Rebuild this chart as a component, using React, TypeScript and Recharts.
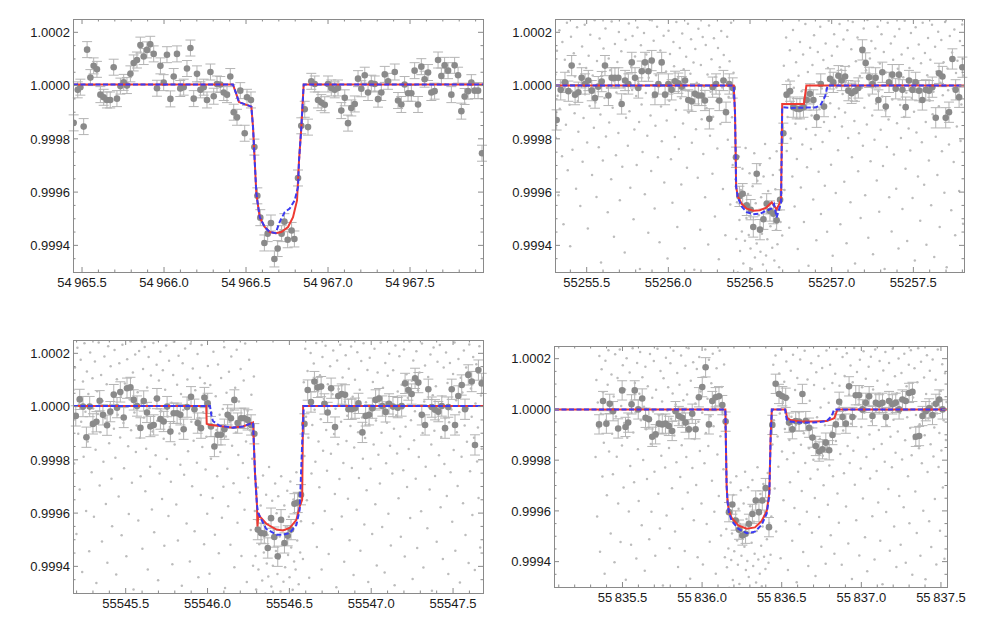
import React from 'react';
import { ComposedChart, Scatter, XAxis, YAxis, ErrorBar } from 'recharts';

type P = [number, number];

// fluxes are stored as ppm offsets from 1; times as day offsets from each panel's base
// (background points: time offset in thousandths of a day)
const Y_MIN = 0.9993;
const Y_MAX = 1.00025;
const yMajor = [0.9994, 0.9996, 0.9998, 1.0, 1.0002];
const yLabels = ['0.9994', '0.9996', '0.9998', '1.0000', '1.0002'];

const RED = '#ee3a32';
const BLUE = '#3b3bf2';

// ---------- panel 1 ----------
const base1 = 54965;
const xMajor1 = [54965.5, 54966.0, 54966.5, 54967.0, 54967.5];
const xLabels1 = ['54\u2009965.5', '54\u2009966.0', '54\u2009966.5', '54\u2009967.0', '54\u2009967.5'];
const err1 = 30;
const binned1: P[] = [
  [0.449, -140], [0.474, -16], [0.49, -6], [0.51, -154], [0.531, 135], [0.551, 30], [0.571, 74], [0.591, 61],
  [0.612, -34], [0.632, -44], [0.652, -54], [0.672, -54], [0.693, 69], [0.713, -49], [0.734, -2], [0.754, 12],
  [0.774, 0], [0.795, 44], [0.815, 85], [0.835, 96], [0.856, 152], [0.876, 109], [0.896, 134], [0.916, 155],
  [0.937, 119], [0.957, -10], [0.978, 74], [0.998, 11], [1.018, 116], [1.039, -50], [1.059, 34], [1.079, 119],
  [1.099, -11], [1.12, -6], [1.14, 64], [1.161, 141], [1.181, -49], [1.201, 44], [1.222, -16], [1.242, -6],
  [1.262, -54], [1.283, 51], [1.303, -40], [1.323, 6], [1.343, 4], [1.364, -26], [1.384, -34], [1.404, 34],
  [1.425, -100], [1.445, -119], [1.465, -19], [1.492, -179], [1.506, -44], [1.53, -54], [1.551, -231],
  [1.569, -414], [1.587, -496], [1.612, -591], [1.632, -556], [1.652, -516], [1.673, -651], [1.693, -612],
  [1.717, -556], [1.734, -511], [1.754, -579], [1.778, -544], [1.795, -576], [1.817, -347], [1.837, -151],
  [1.858, -89], [1.878, -156], [1.898, 16], [1.919, 6], [1.939, -54], [1.959, -64], [1.98, -72], [2.0, 6],
  [2.02, -9], [2.041, -16], [2.061, -9], [2.081, -94], [2.102, -46], [2.122, -141], [2.142, -84], [2.163, -69],
  [2.183, 26], [2.203, -12], [2.224, 39], [2.244, -26], [2.264, 9], [2.285, 6], [2.305, -51], [2.325, -26],
  [2.346, 42], [2.366, 16], [2.407, 51], [2.427, -56], [2.447, -71], [2.467, 4], [2.488, -29], [2.508, -29],
  [2.528, 56], [2.549, -71], [2.569, 71], [2.589, 24], [2.61, 49], [2.63, -26], [2.65, -21], [2.671, 96],
  [2.691, 36], [2.711, 76], [2.732, 56], [2.752, -34], [2.772, 76], [2.793, 39], [2.813, -96], [2.833, -41],
  [2.854, -21], [2.874, 11], [2.894, -19], [2.915, -19], [2.939, -254],
];
const red1: P[] = [
  [0.445, 4], [1.42, 4], [1.44, -30], [1.457, -62], [1.5325, -79], [1.5427, -156], [1.563, -406], [1.5833, -494],
  [1.6138, -531], [1.6443, -550], [1.6809, -554], [1.7154, -550], [1.7561, -531], [1.7866, -494], [1.811, -431],
  [1.8232, -281], [1.8374, -156], [1.8516, 4], [2.945, 4],
];
const blue1: P[] = [
  [0.445, 4], [1.42, 4], [1.44, -30], [1.457, -62], [1.5325, -79], [1.5427, -156], [1.563, -406], [1.5833, -494],
  [1.6138, -531], [1.6443, -550], [1.6809, -554], [1.7053, -512], [1.7358, -475], [1.7663, -462], [1.7967, -431],
  [1.8171, -381], [1.8232, -281], [1.8374, -156], [1.8516, 4], [2.945, 4],
];
const bg1: P[] = [];

// ---------- panel 2 ----------
const base2 = 55255;
const xMajor2 = [55255.5, 55256.0, 55256.5, 55257.0, 55257.5];
const xLabels2 = ['55255.5', '55256.0', '55256.5', '55257.0', '55257.5'];
const err2 = 38;
const binned2: P[] = [
  [0.316, -129], [0.341, -16], [0.367, 12], [0.388, -21], [0.408, 75], [0.429, -34], [0.449, -25], [0.469, 29],
  [0.49, 6], [0.51, 19], [0.531, -19], [0.551, -47], [0.571, -4], [0.592, 15], [0.612, 75], [0.633, -37],
  [0.653, 29], [0.673, 29], [0.694, 29], [0.714, -69], [0.735, 19], [0.755, 6], [0.776, 87], [0.796, 29],
  [0.816, -9], [0.837, 54], [0.857, 87], [0.878, 54], [0.898, 94], [0.918, -34], [0.939, 6], [0.959, 87],
  [0.98, -34], [1.0, 6], [1.02, -16], [1.041, 16], [1.061, 9], [1.082, -4], [1.102, 19], [1.122, -54],
  [1.143, -59], [1.163, -31], [1.184, -37], [1.204, -37], [1.224, -56], [1.251, -125], [1.271, -6], [1.292, 6],
  [1.312, -56], [1.337, 19], [1.353, -100], [1.373, 6], [1.394, -9], [1.414, -269], [1.435, -416], [1.455, -406],
  [1.48, -450], [1.504, -466], [1.52, -531], [1.541, -331], [1.561, -541], [1.582, -502], [1.602, -444],
  [1.622, -471], [1.643, -481], [1.663, -506], [1.684, -429], [1.704, -179], [1.724, -34], [1.745, -21],
  [1.765, -81], [1.786, -87], [1.806, -87], [1.827, -81], [1.847, -54], [1.867, -31], [1.888, -54], [1.908, -119],
  [1.933, 6], [1.953, -79], [1.99, 25], [2.01, 12], [2.041, 37], [2.061, 19], [2.082, 34], [2.102, -19],
  [2.122, -29], [2.143, -21], [2.163, -9], [2.188, 134], [2.208, 85], [2.229, 31], [2.249, 6], [2.269, 29],
  [2.286, -54], [2.31, 50], [2.331, -79], [2.351, 12], [2.371, 41], [2.392, -12], [2.412, 41], [2.433, -16],
  [2.453, -81], [2.473, 19], [2.494, -16], [2.514, 12], [2.535, -19], [2.555, -54], [2.576, -16], [2.596, -19],
  [2.616, -6], [2.637, -121], [2.657, 46], [2.678, 34], [2.698, -121], [2.718, -100], [2.739, 100], [2.759, -16],
  [2.78, -44], [2.8, 69],
];
const red2: P[] = [
  [0.306, 0], [1.4, 0], [1.408, -100], [1.415, -380], [1.425, -415], [1.45, -445], [1.48, -462], [1.52, -470],
  [1.56, -468], [1.6, -458], [1.633, -438], [1.663, -465], [1.69, -430], [1.697, -69], [1.83, -69], [1.845, 0],
  [2.81, 0],
];
const blue2: P[] = [
  [0.306, 0], [1.4, 0], [1.408, -100], [1.415, -380], [1.425, -420], [1.45, -455], [1.48, -475], [1.52, -483],
  [1.56, -481], [1.6, -470], [1.63, -462], [1.647, -445], [1.663, -495], [1.69, -440], [1.697, -81], [1.75, -84],
  [1.9, -82], [1.93, -75], [1.96, -40], [1.975, 0], [2.81, 0],
];
const bg2: P[] = [
  [308,42],[311,-196],[318,131],[322,-38],[327,-412],[333,208],[335,-87],[342,12],[349,-265],[351,164],[358,-521],[364,-9],[366,97],[373,-147],[379,236],[384,-318],[387,55],[395,-72],[399,-603],[404,183],[410,-21],[413,-241],[421,121],[426,-104],[428,34],[435,-387],[441,219],[446,-58],[449,-173],[457,81],[461,-452],[466,3],[472,147],[475,-286],[481,-122],[488,228],[490,-33],[497,66],[503,-214],[507,-537],[512,112],[518,-77],[522,191],[529,-11],[533,-336],[537,38],[544,-158],[549,245],[553,-64],[560,-418],[563,92],[568,-2],[574,-232],[579,177],[584,-109],[588,-664],[594,51],[599,-281],[603,139],[609,-47],[615,214],[618,-191],[624,-8],[629,-476],[635,102],[638,-139],[644,58],[650,-352],[653,241],[659,-83],[664,17],[667,-568],[673,156],[679,-262],[682,-26],[688,89],[694,-178],[697,201],[703,-431],[709,-54],[712,129],[718,-305],[723,24],[727,-7],[733,-627],[738,172],[741,-121],[747,46],[752,-226],[758,233],[762,-96],[767,-384],[772,71],[778,-17],[781,186],[787,-502],[792,-165],[796,109],[803,-39],[806,-298],[811,218],[817,8],[821,-137],[826,-689],[832,151],[836,-71],[842,-249],[847,63],[851,197],[856,-408],[862,-28],[865,117],[871,-188],[877,-553],[880,29],[886,246],[891,-112],[895,-321],[901,84],[906,-44],[910,168],[916,-462],[921,-151],[925,39],[931,221],[936,-269],[940,-4],[946,-588],[951,132],[955,-79],[960,-209],[966,94],[971,187],[975,-364],[980,-31],[986,53],[990,-131],[995,-649],[1001,206],[1006,-57],[1010,119],[1016,-277],[1020,-11],[1025,-440],[1031,164],[1035,73],[1040,-193],[1046,-92],[1049,239],[1055,-531],[1061,28],[1064,-238],[1070,141],[1075,-48],[1079,-371],[1085,196],[1090,-142],[1094,61],[1100,-611],[1105,-18],[1109,108],[1114,-309],[1120,232],[1124,-101],[1129,-468],[1135,44],[1139,174],[1144,-215],[1150,-63],[1154,87],[1159,-692],[1165,137],[1169,-164],[1174,11],[1180,-346],[1184,213],[1189,-36],[1195,-541],[1199,77],[1204,-126],[1210,182],[1214,-257],[1219,-3],[1225,-419],[1229,152],[1234,-84],[1240,42],[1244,-597],[1249,226],[1255,-188],[1259,-23],[1264,99],[1270,-331],[1274,-117],[1279,178],[1285,-492],[1289,32],[1294,-58],[1300,-236],[1304,141],[1309,-652],[1315,69],[1319,-144],[1324,205],[1330,-7],[1334,-388],[1339,115],[1345,-91],[1349,-562],[1354,19],[1360,183],[1364,-203],[1369,-43],[1375,91],[1379,-447],[1384,236],[1390,-119],[1394,-298],[1399,48],[1405,-12],
  [1411,-352],[1416,-576],[1420,-438],[1425,-702],[1431,-266],[1435,-505],[1439,-621],[1444,-392],[1450,-548],[1454,-312],[1459,-668],[1465,-451],[1469,-583],[1473,-234],[1478,-497],[1484,-736],[1488,-407],[1492,-561],[1497,-329],[1503,-612],[1507,-468],[1511,-689],[1516,-378],[1522,-531],[1526,-254],[1530,-646],[1535,-442],[1541,-593],[1545,-357],[1549,-711],[1554,-487],[1560,-298],[1564,-624],[1568,-419],[1573,-556],[1579,-672],[1583,-341],[1587,-503],[1592,-219],[1598,-638],[1602,-462],[1606,-577],[1611,-396],[1617,-704],[1621,-273],[1625,-528],[1630,-441],[1636,-609],[1640,-336],[1644,-482],[1649,-657],[1655,-389],[1659,-541],[1663,-247],[1668,-596],[1674,-428],[1678,-682],[1682,-317],[1687,-512],[1693,-403],[1697,-563],
  [1702,-158],[1707,74],[1711,-392],[1716,-41],[1721,181],[1725,-246],[1730,-118],[1735,22],[1740,-534],[1744,133],[1749,-199],[1754,-62],[1759,-341],[1763,209],[1768,-8],[1773,-454],[1778,-143],[1782,88],[1787,-276],[1792,-614],[1797,37],[1801,-97],[1806,164],[1811,-383],[1816,-21],[1820,-221],[1825,117],[1830,-512],[1835,-76],[1839,231],[1844,-163],[1849,-307],[1854,51],[1858,-677],[1863,-32],[1868,142],[1873,-238],[1877,-112],[1882,77],[1887,-428],[1892,189],[1896,-53],[1901,-186],[1906,-581],[1911,13],[1915,126],[1920,-324],[1925,-89],[1930,221],[1934,-482],[1939,-11],[1944,-212],[1949,96],[1953,-137],[1958,-376],[1963,158],[1968,-29],[1972,-549],[1977,66],[1982,243],[1987,-171],[1991,-66],[1996,-297],[2001,112],[2006,-639],[2010,27],[2015,193],[2020,-118],[2025,-403],[2029,-7],[2034,147],[2039,-243],[2044,-86],[2048,231],[2053,-521],[2058,59],[2063,-154],[2067,-32],[2072,173],[2077,-361],[2082,-101],[2086,14],[2091,-592],[2096,208],[2101,-197],[2105,73],[2110,-48],[2115,-438],[2120,136],[2124,-269],[2129,239],[2134,-14],[2139,-133],[2143,-668],[2148,91],[2153,-58],[2158,181],[2162,-322],[2167,-179],[2172,36],[2177,-497],[2181,128],[2186,-8],[2191,-226],[2196,214],[2200,-83],[2205,-412],[2210,58],[2215,-146],[2219,246],[2224,-571],[2229,-37],[2234,102],[2238,-284],[2243,167],[2248,-112],[2253,-633],[2257,18],[2262,-203],[2267,139],[2272,-67],[2276,-356],[2281,221],[2286,-21],[2291,-474],[2295,83],[2300,-166],[2305,193],[2310,-41],[2314,-302],[2319,126],[2324,-689],[2329,-94],[2333,49],[2338,-231],[2343,236],[2348,-127],[2352,-419],[2357,7],[2362,158],[2367,-548],[2371,-52],[2376,97],[2381,-259],[2386,184],[2390,-9],[2395,-387],[2400,-141],[2405,63],[2409,-612],[2414,212],[2419,-73],[2424,-197],[2428,117],[2433,-463],[2438,31],[2443,-118],[2447,243],[2452,-312],[2457,-27],[2462,-584],[2466,141],[2471,-161],[2476,66],[2481,-244],[2485,197],[2490,-47],[2495,-422],[2500,102],[2504,-98],[2509,-657],[2514,219],[2519,-176],[2523,13],[2528,-341],[2533,154],[2538,-62],[2542,-508],[2547,84],[2552,-213],[2557,236],[2561,-19],[2566,-372],[2571,122],[2576,-137],[2580,-598],[2585,39],[2590,179],[2595,-281],[2599,-57],[2604,97],[2609,-449],[2614,228],[2618,-108],[2623,-23],[2628,-644],[2633,146],[2637,-192],[2642,53],[2647,-336],[2652,202],[2656,-78],[2661,-531],[2666,11],[2671,171],[2675,-247],[2680,-36],[2685,88],[2690,-402],[2694,239],[2699,-129],[2704,-682],[2709,64],[2713,-18],[2718,-221],[2723,186],[2728,-93],[2732,-468],[2737,124],[2742,-11],[2747,-287],[2751,211],[2756,-562],[2761,47],[2766,-154],[2770,93],[2775,-34],[2780,-396],[2785,167],[2789,-208],[2794,-71],[2799,229],[2804,-519],[2808,38],
];

// ---------- panel 3 ----------
const base3 = 55545;
const xMajor3 = [55545.5, 55546.0, 55546.5, 55547.0, 55547.5];
const xLabels3 = ['55545.5', '55546.0', '55546.5', '55547.0', '55547.5'];
const err3 = 38;
const binned3: P[] = [
  [0.195, -35], [0.219, 27], [0.239, 0], [0.26, -115], [0.28, 0], [0.3, -65], [0.321, -57], [0.341, 22],
  [0.361, -31], [0.386, -70], [0.406, -19], [0.427, 45], [0.447, -4], [0.467, 55], [0.488, -41], [0.508, 69],
  [0.529, 72], [0.549, 25], [0.569, 2], [0.59, -80], [0.61, 21], [0.63, -22], [0.651, -75], [0.671, -69],
  [0.691, 30], [0.712, -47], [0.732, -56], [0.753, 0], [0.773, -94], [0.793, -25], [0.814, -25], [0.834, -31],
  [0.854, -85], [0.875, -2], [0.899, 37], [0.92, -10], [0.94, -62], [0.96, -81], [0.981, 34], [1.001, 12],
  [1.021, -75], [1.042, -150], [1.062, -106], [1.082, -106], [1.103, -85], [1.123, -31], [1.143, -44], [1.164, 25],
  [1.184, -62], [1.205, -44], [1.225, -44], [1.245, -50], [1.266, -69], [1.286, -102], [1.307, -462], [1.327, -475],
  [1.347, -477], [1.368, -531], [1.388, -419], [1.408, -490], [1.429, -562], [1.449, -425], [1.47, -512],
  [1.49, -485], [1.51, -462], [1.531, -365], [1.551, -360], [1.571, -331], [1.592, -65], [1.612, 62], [1.632, 17],
  [1.653, 94], [1.673, 72], [1.694, 75], [1.714, 10], [1.734, -22], [1.755, 69], [1.779, -77], [1.799, 40],
  [1.82, 47], [1.84, 44], [1.861, -10], [1.881, -10], [1.901, -6], [1.922, 12], [1.946, -97], [1.966, -35],
  [1.987, -31], [2.007, -6], [2.027, 25], [2.048, 30], [2.068, 2], [2.088, -20], [2.109, 10], [2.133, 0],
  [2.162, -4], [2.186, 2], [2.207, 87], [2.227, 62], [2.247, 47], [2.268, 106], [2.288, 90], [2.309, -31],
  [2.329, -69], [2.349, 65], [2.37, -2], [2.39, -12], [2.41, -19], [2.431, 2], [2.451, -81], [2.471, -2],
  [2.492, 65], [2.512, -69], [2.532, 40], [2.553, 81], [2.573, -10], [2.593, 119], [2.614, 94], [2.634, -144],
  [2.655, 137], [2.675, 87],
];
const red3: P[] = [
  [0.178, 2], [0.992, 2], [0.995, -65], [1.01, -68], [1.034, -70], [1.074, -73], [1.156, -79], [1.217, -75],
  [1.278, -60], [1.29, -250], [1.302, -369], [1.305, -450], [1.312, -400], [1.319, -412], [1.359, -440],
  [1.421, -462], [1.461, -465], [1.502, -456], [1.543, -425], [1.563, -375], [1.578, -350], [1.584, 2], [2.683, 2],
];
const blue3: P[] = [
  [0.178, 2], [1.015, 2], [1.025, -40], [1.034, -55], [1.074, -72], [1.156, -79], [1.217, -75], [1.278, -60],
  [1.29, -250], [1.302, -369], [1.309, -400], [1.359, -460], [1.421, -481], [1.461, -481], [1.502, -475],
  [1.543, -444], [1.563, -387], [1.579, -125], [1.588, 2], [2.683, 2],
];
const bg3: P[] = [
  [181,63],[185,-214],[190,147],[196,-36],[199,-478],[205,221],[210,-102],[214,8],[219,-311],[225,176],[228,-57],[234,-621],[239,94],[243,-188],[248,238],[254,-19],[258,-392],[263,132],[268,-131],[272,47],[277,-543],[283,203],[287,-71],[292,-247],[297,106],[301,-7],[306,-414],[312,169],[316,-162],[321,-662],[326,58],[330,-28],[335,241],[341,-296],[345,-96],[350,119],[355,-507],[359,21],[364,-207],[370,188],[374,-44],[379,-366],[384,84],[388,-586],[393,227],[399,-138],[403,-12],[408,151],[413,-271],[417,-449],[422,37],[428,-83],[432,212],[437,-192],[442,-631],[446,103],[451,-31],[457,-338],[461,163],[466,-116],[471,41],[475,-483],[480,232],[486,-62],[490,-232],[495,87],[500,-2],[504,-562],[509,178],[515,-149],[519,-403],[524,27],[529,244],[533,-89],[538,-286],[544,128],[548,-687],[553,-22],[558,196],[562,-171],[567,-71],[573,54],[577,-428],[582,209],[587,-117],[591,-262],[596,11],[602,-534],[606,141],[611,-41],[616,224],[620,-318],[625,-158],[631,72],[635,-612],[640,186],[645,-6],[649,-226],[654,117],[660,-386],[664,-94],[669,239],[674,-472],[678,31],[683,-183],[689,157],[693,-53],[698,-652],[703,98],[707,-251],[712,206],[718,-18],[722,-347],[727,136],[732,-121],[736,-523],[741,63],[747,229],[751,-197],[756,-37],[761,-411],[765,172],[770,-77],[776,-282],[780,14],[785,-592],[790,119],[794,243],[799,-142],[805,-26],[809,-368],[814,82],[819,-503],[823,191],[828,-101],[834,-218],[838,47],[843,-673],[848,163],[852,-13],[857,-256],[863,218],[867,-86],[872,-439],[877,102],[881,-168],[886,26],[892,-582],[896,236],[901,-57],[906,-299],[910,143],[915,-128],[921,-468],[925,61],[930,-9],[935,-211],[939,197],[944,-641],[950,-43],[954,108],[959,-332],[964,231],[968,-152],[973,-21],[979,-517],[983,88],[988,-236],
  [993,-113],[998,-402],[1002,152],[1007,-67],[1012,-628],[1017,81],[1021,-196],[1026,-23],[1031,-343],[1036,206],[1040,-142],[1045,-481],[1050,39],[1055,-88],[1059,-262],[1064,158],[1069,-551],[1074,-31],[1078,-171],[1083,107],[1088,-417],[1093,-9],[1097,-301],[1102,223],[1107,-681],[1112,-112],[1116,52],[1121,-233],[1126,-374],[1131,131],[1135,-58],[1140,-519],[1145,188],[1150,-147],[1154,-14],[1159,-288],[1164,-603],[1169,71],[1173,-97],[1178,213],[1183,-436],[1188,-182],[1192,19],[1197,-323],[1202,141],[1207,-561],[1211,-46],[1216,-212],[1221,98],[1226,-387],[1230,237],[1235,-131],[1240,-659],[1245,-16],[1249,-267],[1254,176],[1259,-89],[1264,-463],[1268,44],[1273,-196],[1278,-598],[1283,113],
  [1289,-392],[1293,-561],[1297,-687],[1302,-428],[1307,-304],[1311,-612],[1316,-517],[1320,-733],[1325,-371],[1330,-476],[1334,-653],[1339,-259],[1344,-548],[1348,-446],[1353,-702],[1358,-331],[1362,-589],[1367,-482],[1371,-638],[1376,-227],[1381,-531],[1385,-412],[1390,-676],[1395,-354],[1399,-598],[1404,-463],[1409,-717],[1413,-289],[1418,-542],[1422,-401],[1427,-629],[1432,-337],[1436,-571],[1441,-488],[1446,-694],[1450,-262],[1455,-519],[1460,-433],[1464,-658],[1469,-371],[1474,-603],[1478,-452],[1483,-726],[1487,-316],[1492,-557],[1497,-414],[1501,-641],[1506,-281],[1511,-529],[1515,-467],[1520,-688],[1525,-349],[1529,-582],[1534,-439],[1538,-612],[1543,-247],[1548,-503],[1552,-396],[1557,-667],[1562,-323],[1566,-548],[1571,-431],[1576,-274],
  [1583,-572],[1588,91],[1592,-186],[1597,217],[1602,-38],[1607,-352],[1611,134],[1616,-117],[1621,-643],[1626,22],[1630,201],[1635,-251],[1640,-69],[1645,-438],[1649,162],[1654,-12],[1659,-207],[1664,239],[1668,-527],[1673,58],[1678,-131],[1683,-303],[1687,118],[1692,-48],[1697,-612],[1702,186],[1706,-166],[1711,29],[1716,-392],[1721,228],[1725,-88],[1730,-241],[1735,84],[1740,-554],[1744,-22],[1749,151],[1754,-177],[1759,-461],[1763,46],[1768,211],[1773,-103],[1778,-328],[1782,-8],[1787,-678],[1792,173],[1797,-141],[1801,66],[1806,-272],[1811,232],[1816,-57],[1820,-413],[1825,109],[1830,-212],[1835,-583],[1839,18],[1844,193],[1849,-129],[1854,-34],[1858,-346],[1863,142],[1868,-502],[1873,-73],[1877,226],[1882,-231],[1887,37],[1892,-632],[1896,-154],[1901,101],[1906,-12],[1911,-387],[1915,204],[1920,-96],[1925,-268],[1930,63],[1934,-541],[1939,171],[1944,-41],[1949,-196],[1953,238],[1958,-443],[1963,-118],[1968,16],[1972,-314],[1977,137],[1982,-659],[1987,-67],[1991,183],[1996,-233],[2001,-16],[2006,-478],[2010,92],[2015,-142],[2020,217],[2025,-367],[2029,-52],[2034,-597],[2039,128],[2044,-181],[2048,41],[2053,-289],[2058,241],[2063,-98],[2067,-452],[2072,71],[2077,-23],[2082,-623],[2086,164],[2091,-213],[2096,-61],[2101,116],[2105,-402],[2110,198],[2115,-147],[2120,-522],[2124,9],[2129,-251],[2134,136],[2139,-83],[2143,-671],[2148,229],[2153,-33],[2158,-176],[2162,57],[2167,-344],[2172,189],[2177,-112],[2181,-489],[2186,82],[2191,-7],[2196,-239],[2200,214],[2205,-563],[2210,-76],[2215,121],[2219,-302],[2224,33],[2229,-159],[2234,244],[2238,-418],[2243,-51],[2248,97],[2253,-647],[2257,173],[2262,-126],[2267,-18],[2272,-271],[2276,208],[2281,-531],[2286,61],[2291,-189],[2295,128],[2300,-34],[2305,-393],[2310,237],[2314,-99],[2319,-604],[2324,19],[2329,154],[2333,-226],[2338,-68],[2343,-457],[2348,111],[2352,-2],[2357,-311],[2362,196],[2367,-142],[2371,-692],[2376,43],[2381,222],[2386,-91],[2390,-261],[2395,76],[2400,-508],[2405,168],[2409,-27],[2414,-183],[2419,231],[2424,-378],[2428,-114],[2433,38],[2438,-572],[2443,147],[2447,-216],[2452,-44],[2457,203],[2462,-336],[2466,89],[2471,-629],[2476,-59],[2481,164],[2485,-247],[2490,-11],[2495,-432],[2500,122],[2504,-163],[2509,241],[2514,-541],[2519,24],[2523,-96],[2528,-298],[2533,179],[2538,-21],[2542,-661],[2547,108],[2552,-188],[2557,53],[2561,-363],[2566,211],[2571,-71],[2576,-482],[2580,147],[2585,-132],[2590,-6],[2595,-587],[2599,233],[2604,-243],[2609,68],[2614,-38],[2618,-407],[2623,186],[2628,-117],[2633,-614],[2637,12],[2642,159],[2647,-206],[2652,-79],[2656,-343],[2661,227],[2666,-529],[2671,42],[2675,-158],[2680,108],
];

// ---------- panel 4 ----------
const base4 = 55835;
const xMajor4 = [55835.5, 55836.0, 55836.5, 55837.0, 55837.5];
const xLabels4 = ['55\u2009835.5', '55\u2009836.0', '55\u2009836.5', '55\u2009837.0', '55\u2009837.5'];
const err4 = 38;
const binned4: P[] = [
  [0.353, -59], [0.378, 33], [0.399, -56], [0.42, 22], [0.441, -7], [0.473, -75], [0.498, 75], [0.519, -69],
  [0.536, -52], [0.557, 20], [0.577, 75], [0.599, 0], [0.624, 43], [0.645, -33], [0.666, -39], [0.687, -108],
  [0.708, -98], [0.729, -56], [0.75, -59], [0.77, -56], [0.791, -65], [0.812, -85], [0.833, -7], [0.854, -26],
  [0.875, -33], [0.896, -52], [0.917, -78], [0.938, -17], [0.959, -78], [0.98, 48], [1.001, 88], [1.022, 166],
  [1.043, -59], [1.064, 33], [1.085, 48], [1.106, 52], [1.127, 17], [1.148, -48], [1.169, -405], [1.19, -375],
  [1.211, -438], [1.232, -474], [1.253, -497], [1.273, -490], [1.294, -451], [1.316, -412], [1.337, -359],
  [1.357, -405], [1.378, -359], [1.399, -310], [1.42, -464], [1.441, -61], [1.462, 101], [1.483, 61], [1.504, 52],
  [1.525, 46], [1.546, -52], [1.567, -78], [1.588, -46], [1.609, -48], [1.63, 61], [1.651, -46], [1.672, -72],
  [1.693, -111], [1.714, -144], [1.735, -166], [1.756, -157], [1.777, -131], [1.798, -161], [1.819, -101],
  [1.84, -59], [1.861, 30], [1.882, -30], [1.903, -56], [1.923, 91], [1.944, -30], [1.965, 56], [1.986, 56],
  [2.007, 0], [2.028, 26], [2.049, 52], [2.07, -26], [2.091, 26], [2.112, 20], [2.133, 26], [2.154, -30],
  [2.174, 33], [2.195, 20], [2.216, 26], [2.237, 0], [2.258, 39], [2.279, 33], [2.3, 65], [2.321, 69],
  [2.342, -108], [2.363, -105], [2.384, -26], [2.405, -7], [2.426, 4], [2.447, -22], [2.468, 22], [2.489, 39],
  [2.51, 0],
];
const red4: P[] = [
  [0.07, 0], [1.146, 0], [1.154, -300], [1.16, -365], [1.168, -398], [1.186, -428], [1.227, -457], [1.28, -470],
  [1.332, -465], [1.374, -440], [1.406, -400], [1.422, -330], [1.431, -98], [1.438, 0], [1.524, 0], [1.534, -33],
  [1.555, -42], [1.615, -48], [1.699, -48], [1.783, -46], [1.83, -35], [1.85, 0], [2.538, 0],
];
const blue4: P[] = [
  [0.07, 0], [1.146, 0], [1.154, -300], [1.16, -365], [1.168, -405], [1.186, -440], [1.227, -470], [1.28, -488],
  [1.332, -482], [1.374, -455], [1.406, -410], [1.422, -340], [1.431, -98], [1.438, 0], [1.521, 0], [1.531, -39],
  [1.552, -48], [1.615, -52], [1.699, -52], [1.783, -46], [1.814, -26], [1.829, 0], [2.538, 0],
];
const bg4: P[] = [
  [331,-188],[336,116],[341,-422],[345,27],[350,-73],[355,211],[359,-561],[364,-17],[369,158],[374,-264],[378,68],[383,-131],[388,-648],[393,192],[397,-42],[402,-338],[407,97],[412,233],[416,-166],[421,-7],[426,-489],[431,138],[435,-96],[440,-256],[445,51],[450,-602],[454,217],[459,-28],[464,-187],[469,124],[473,-371],[478,-81],[483,236],[488,-523],[492,13],[497,-142],[502,174],[507,-308],[511,-54],[516,79],[521,-671],[526,202],[530,-112],[535,-19],[540,-402],[545,146],[549,-223],[554,-533],[559,33],[564,241],[568,-91],[573,-287],[578,104],[583,-11],[587,-588],[592,183],[597,-157],[602,-361],[606,62],[611,226],[616,-43],[621,-457],[625,127],[630,-199],[635,11],[640,-636],[644,168],[649,-78],[654,-274],[659,91],[663,-31],[668,-512],[673,218],[678,-136],[682,-403],[687,46],[692,-8],[697,191],[701,-246],[706,-577],[711,78],[716,-108],[720,239],[725,-332],[730,-23],[735,-469],[739,151],[744,-183],[749,31],[754,-694],[758,123],[763,-62],[768,-229],[773,204],[777,-418],[782,-4],[787,87],[792,-152],[796,-547],[801,182],[806,-37],[811,-311],[815,63],[820,231],[825,-103],[830,-481],[834,19],[839,-208],[844,144],[849,-621],[853,-56],[858,97],[863,-266],[868,213],[872,-141],[877,-392],[882,36],[887,-12],[891,-558],[896,172],[901,-188],[906,59],[910,-327],[915,241],[920,-79],[925,-667],[929,113],[934,-36],[939,-231],[944,186],[948,-437],[953,-117],[958,23],[963,-298],[967,159],[972,-583],[977,-49],[982,207],[986,-164],[991,71],[996,-371],[1001,-13],[1005,-611],[1010,128],[1015,-212],[1020,236],[1024,-93],[1029,-452],[1034,42],[1039,-144],[1043,196],[1048,-522],[1053,-27],[1058,103],[1062,-281],[1067,219],[1072,-66],[1077,-403],[1081,8],[1086,-648],[1091,162],[1096,-178],[1100,54],[1105,-341],[1110,231],[1115,-106],[1119,-497],[1124,88],[1129,-19],[1134,-236],[1138,177],[1143,-583],[1147,-71],
  [1152,-471],[1156,-622],[1161,-356],[1165,-548],[1170,-703],[1174,-411],[1179,-288],[1183,-594],[1188,-489],[1193,-672],[1197,-337],[1202,-559],[1206,-428],[1211,-736],[1215,-263],[1220,-517],[1225,-612],[1229,-392],[1234,-688],[1238,-452],[1243,-319],[1247,-577],[1252,-503],[1257,-719],[1261,-371],[1266,-541],[1270,-246],[1275,-633],[1279,-432],[1284,-598],[1289,-307],[1293,-661],[1298,-487],[1302,-382],[1307,-707],[1311,-526],[1316,-278],[1321,-617],[1325,-443],[1330,-569],[1334,-351],[1339,-682],[1343,-479],[1348,-228],[1353,-592],[1357,-414],[1362,-648],[1366,-333],[1371,-537],[1375,-697],[1380,-462],[1385,-294],[1389,-581],[1394,-403],[1398,-629],[1403,-361],[1407,-512],[1412,-251],[1417,-604],[1421,-448],[1426,-316],[1430,-573],[1435,-422],
  [1442,-138],[1447,176],[1451,-43],[1456,-312],[1461,213],[1465,-481],[1470,64],[1474,-107],[1479,-226],[1484,142],[1488,-16],[1493,-587],[1497,238],[1502,-166],[1507,29],[1511,-358],[1516,109],[1520,-77],[1525,-441],[1529,189],[1534,-196],[1539,-633],[1543,46],[1548,-121],[1552,-287],[1557,152],[1561,-29],[1566,-518],[1571,216],[1575,-172],[1580,-389],[1584,77],[1589,-61],[1594,-681],[1598,124],[1603,-246],[1607,-12],[1612,-453],[1616,197],[1621,-139],[1626,-322],[1630,53],[1635,-562],[1639,-94],[1644,231],[1648,-211],[1653,-47],[1658,-403],[1662,118],[1667,-617],[1671,-153],[1676,34],[1680,-273],[1685,182],[1690,-486],[1694,-72],[1699,-198],[1703,96],[1708,-349],[1712,-657],[1717,147],[1722,-31],[1726,-237],[1731,211],[1735,-424],[1740,-116],[1744,8],[1749,-541],[1754,163],[1758,-183],[1763,-299],[1767,81],[1772,-62],[1776,-608],[1781,232],[1786,-149],[1790,-376],[1795,26],[1799,-221],[1804,176],[1808,-496],[1813,-88],[1818,104],[1822,-263],[1827,-17],[1831,-569],
  [1836,141],[1840,-124],[1845,238],[1850,-331],[1854,-39],[1859,-447],[1863,93],[1868,-176],[1872,18],[1877,-612],[1882,207],[1886,-83],[1891,-252],[1895,132],[1900,-3],[1904,-383],[1909,221],[1914,-144],[1918,-529],[1923,58],[1927,-211],[1932,173],[1936,-56],[1941,-668],[1946,107],[1950,-163],[1955,242],[1959,-297],[1964,-28],[1968,-437],[1973,148],[1978,-111],[1982,19],[1987,-576],[1991,196],[1996,-233],[2000,-69],[2005,87],[2010,-351],[2014,229],[2019,-13],[2023,-504],[2028,121],[2032,-188],[2037,-638],[2042,41],[2046,168],[2051,-99],[2055,-272],[2060,208],[2064,-47],[2069,-421],[2074,79],[2078,-156],[2083,-592],[2087,236],[2092,-4],[2096,-243],[2101,113],[2106,-367],[2110,-81],[2115,191],[2119,-518],[2124,32],[2128,-136],[2133,-689],[2138,153],[2142,-21],[2147,-206],[2151,226],[2156,-404],[2160,-63],[2165,98],[2170,-314],[2174,183],[2179,-557],[2183,-108],[2188,17],[2192,-228],[2197,239],[2202,-41],[2206,-462],[2211,131],[2215,-171],[2220,-621],[2224,64],[2229,-87],[2234,201],[2238,-341],[2243,-14],[2247,-533],[2252,144],[2256,-197],[2261,33],[2266,-386],[2270,219],[2275,-122],[2279,-604],[2284,91],[2288,-31],[2293,-263],[2298,176],[2302,-449],[2307,-73],[2311,233],[2316,-181],[2320,-652],[2325,47],[2330,-117],[2334,162],[2339,-324],[2343,-22],[2348,-487],[2352,107],[2357,241],[2362,-153],[2366,-58],[2371,-577],[2375,188],[2380,-212],[2384,-9],[2389,-399],[2394,126],[2398,-102],[2403,-669],[2407,61],[2412,214],[2416,-247],[2421,-36],[2426,-441],[2430,152],[2435,-137],[2439,-542],[2444,22],[2448,197],[2453,-186],[2458,-71],[2462,-353],[2467,117],[2471,-611],[2476,-16],[2480,236],[2485,-227],[2490,-93],[2494,-478],[2499,73],[2503,-162],[2508,178],[2512,-308],[2517,-43],[2522,-589],[2526,143],[2531,-121],[2535,29],
];

// layout of each plot frame on the page (pixels)
const panels = [
  { left: 73, top: 19, w: 410, h: 253, base: base1, xMin: 54965.445, xMax: 54967.945, xMajor: xMajor1, xLabels: xLabels1, binned: binned1, err: err1, bg: bg1, red: red1, blue: blue1 },
  { left: 555, top: 19, w: 409, h: 253, base: base2, xMin: 55255.306, xMax: 55257.81, xMajor: xMajor2, xLabels: xLabels2, binned: binned2, err: err2, bg: bg2, red: red2, blue: blue2 },
  { left: 73, top: 340, w: 410, h: 253, base: base3, xMin: 55545.178, xMax: 55547.683, xMajor: xMajor3, xLabels: xLabels3, binned: binned3, err: err3, bg: bg3, red: red3, blue: blue3 },
  { left: 554, top: 346, w: 393, h: 241, base: base4, xMin: 55835.07, xMax: 55837.538, xMajor: xMajor4, xLabels: xLabels4, binned: binned4, err: err4, bg: bg4, red: red4, blue: blue4 },
];

const PL = 70;
const PT = 10;
const PR = 40;
const PB = 30;
const FONT = '"Liberation Sans", Arial, sans-serif';

const toXY = (base: number, pts: P[]) => pts.map(([t, v]) => ({ x: base + t, y: 1 + v * 1e-6 }));
const toBg = (base: number, pts: P[]) => pts.map(([t, v]) => ({ x: base + t / 1000, y: 1 + v * 1e-6 }));

const bgDot = (p: any) => <circle cx={p.cx} cy={p.cy} r={1.25} fill="#bcbcbc" />;
const binDot = (p: any) => <circle cx={p.cx} cy={p.cy} r={3.3} fill="#8a8a8a" />;
const noDot = () => <g />;

function Panel({ cfg }: { cfg: typeof panels[number] }) {
  const pr = PL + cfg.w;
  const pb = PT + cfg.h;

  const xTicks: number[] = [];
  for (let k = Math.ceil(cfg.xMin * 10 + 1e-6); k <= Math.floor(cfg.xMax * 10 - 1e-6); k++) xTicks.push(k / 10);
  const yTicks: number[] = [];
  for (let k = Math.ceil(Y_MIN * 20000 + 1e-6); k <= Math.floor(Y_MAX * 20000 - 1e-6); k++) yTicks.push(k / 20000);

  const binData = cfg.binned.map(([t, v]) => ({ x: cfg.base + t, y: 1 + v * 1e-6, err: cfg.err * 1e-6 }));

  const xTick = (tp: any) => {
    const v = tp.payload.value;
    const x = tp.payload.coordinate ?? tp.x;
    const i = cfg.xMajor.findIndex((m) => Math.abs(m - v) < 1e-6);
    const len = i >= 0 ? 5 : 2.5;
    return (
      <g>
        <line x1={x} x2={x} y1={pb} y2={pb - len} stroke="#8a8a8a" />
        <line x1={x} x2={x} y1={PT} y2={PT + len} stroke="#8a8a8a" />
        {i >= 0 && (
          <text x={x} y={pb + 14.5} textAnchor="middle" fontSize={13} fontFamily={FONT} fill="#1a1a1a">
            {cfg.xLabels[i]}
          </text>
        )}
      </g>
    );
  };

  const yTick = (tp: any) => {
    const v = tp.payload.value;
    const y = tp.payload.coordinate ?? tp.y;
    const i = yMajor.findIndex((m) => Math.abs(m - v) < 1e-9);
    const len = i >= 0 ? 5 : 2.5;
    return (
      <g>
        <line x1={PL} x2={PL + len} y1={y} y2={y} stroke="#8a8a8a" />
        <line x1={pr} x2={pr - len} y1={y} y2={y} stroke="#8a8a8a" />
        {i >= 0 && (
          <text x={PL - 3} y={y} dy="0.36em" textAnchor="end" fontSize={13} fontFamily={FONT} fill="#1a1a1a">
            {yLabels[i]}
          </text>
        )}
      </g>
    );
  };

  return (
    <div style={{ position: 'absolute', left: cfg.left - PL, top: cfg.top - PT }}>
      <ComposedChart width={cfg.w + PL + PR} height={cfg.h + PT + PB} margin={{ top: PT, right: PR, bottom: 0, left: 0 }}>
        <XAxis
          dataKey="x"
          type="number"
          domain={[cfg.xMin, cfg.xMax]}
          allowDataOverflow
          ticks={xTicks}
          interval={0}
          tick={xTick}
          tickLine={false}
          axisLine={false}
          height={PB}
        />
        <YAxis
          dataKey="y"
          type="number"
          domain={[Y_MIN, Y_MAX]}
          allowDataOverflow
          ticks={yTicks}
          interval={0}
          tick={yTick}
          tickLine={false}
          axisLine={false}
          width={PL}
        />
        {cfg.bg.length > 0 && <Scatter data={toBg(cfg.base, cfg.bg)} shape={bgDot} isAnimationActive={false} />}
        <Scatter data={binData} shape={binDot} isAnimationActive={false}>
          <ErrorBar dataKey="err" direction="y" width={5} stroke="#b4b4b4" strokeWidth={1} />
        </Scatter>
        <Scatter
          data={toXY(cfg.base, cfg.red)}
          line={{ stroke: RED, strokeWidth: 2 }}
          shape={noDot}
          isAnimationActive={false}
        />
        <Scatter
          data={toXY(cfg.base, cfg.blue)}
          line={{ stroke: BLUE, strokeWidth: 2, strokeDasharray: '5 2.5' }}
          shape={noDot}
          isAnimationActive={false}
        />
      </ComposedChart>
      <div
        style={{
          position: 'absolute',
          left: PL - 0.5,
          top: PT - 0.5,
          width: cfg.w + 1,
          height: cfg.h + 1,
          border: '1px solid #8a8a8a',
          boxSizing: 'border-box',
          pointerEvents: 'none',
        }}
      />
    </div>
  );
}

export default function App() {
  return (
    <div style={{ position: 'absolute', left: 0, top: 0, width: 987, height: 620, background: '#fff', fontFamily: FONT }}>
      {panels.map((cfg, i) => (
        <Panel key={i} cfg={cfg} />
      ))}
    </div>
  );
}
